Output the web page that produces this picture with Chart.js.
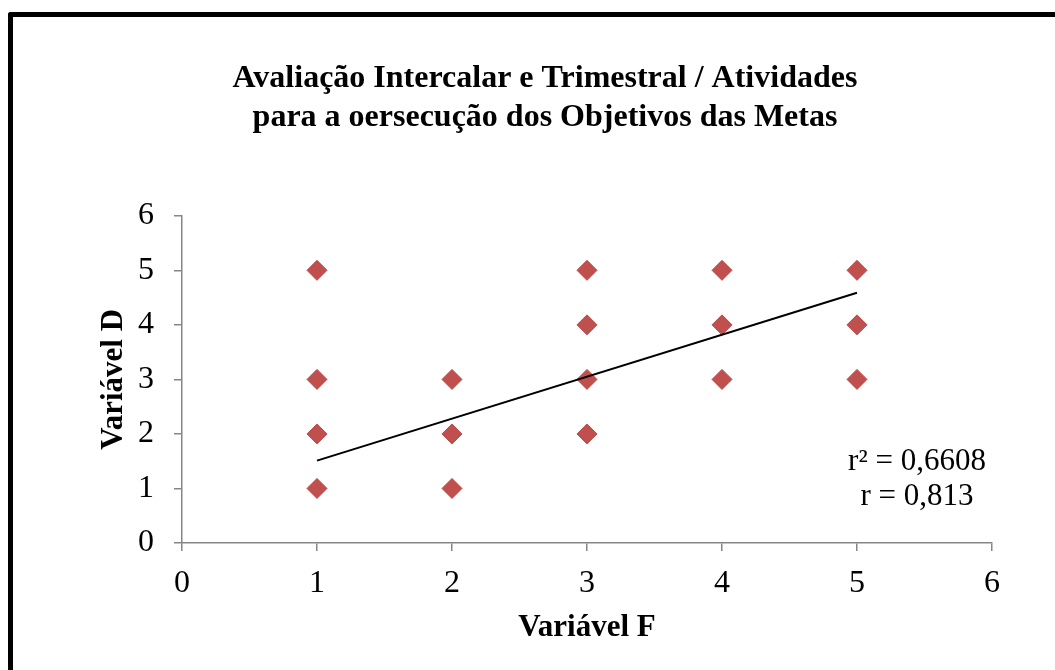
<!DOCTYPE html>
<html><head><meta charset="utf-8">
<script src="https://cdn.jsdelivr.net/npm/chart.js@4.4.1/dist/chart.umd.min.js"></script>
<style>
html,body{margin:0;padding:0;background:#fff;overflow:hidden;width:1055px;height:670px}
#frame{position:absolute;left:8px;top:12px;width:1200px;height:800px;border-left:5px solid #000;border-top:5px solid #000;border-top-left-radius:3px;box-sizing:border-box;pointer-events:none}
#c{position:absolute;left:0;top:0}
</style></head><body>
<canvas id="c" width="1090" height="670"></canvas>
<div id="frame"></div>
<script>
const xValues = [1, 1, 1, 1, 2, 2, 2, 3, 3, 3, 3, 4, 4, 4, 5, 5, 5];
const yValues = [5, 3, 2, 1, 3, 2, 1, 5, 4, 3, 2, 5, 4, 3, 5, 4, 3];
const trendX = [1, 5];
const trendY = [1.51, 4.59];
const axisMin = 0, axisMax = 6, axisStep = 1;
const chartTitle = ['Avaliação Intercalar e Trimestral / Atividades', 'para a oersecução dos Objetivos das Metas'];
const xTitle = 'Variável F';
const yTitle = 'Variável D';
const statLines = ['r² = 0,6608', 'r = 0,813'];

const FONT = "'Liberation Serif', 'Times New Roman', serif";
const AXIS_COLOR = '#868686';

const points = xValues.map((x, i) => ({x: x, y: yValues[i]}));
const trend = trendX.map((x, i) => ({x: x, y: trendY[i]}));

const statsPlugin = {
  id: 'stats',
  afterDatasetsDraw(chart) {
    const {ctx, chartArea} = chart;
    ctx.save();
    ctx.font = '31px ' + FONT;
    ctx.fillStyle = '#000';
    ctx.textAlign = 'center';
    ctx.textBaseline = 'alphabetic';
    const cx = chartArea.right - 75;
    ctx.fillText(statLines[0], cx, chartArea.top + 254);
    ctx.fillText(statLines[1], cx, chartArea.top + 289);
    ctx.restore();
  }
};

new Chart(document.getElementById('c'), {
  type: 'scatter',
  data: {
    datasets: [
      {
        type: 'line',
        data: trend,
        borderColor: '#000',
        borderWidth: 2,
        pointRadius: 0,
        fill: false,
        order: 0
      },
      {
        data: points,
        pointStyle: 'rectRot',
        pointRadius: 10,
        backgroundColor: '#c0504d',
        borderColor: '#b9484b',
        borderWidth: 1,
        order: 1
      }
    ]
  },
  options: {
    responsive: false,
    animation: false,
    layout: {padding: 0},
    plugins: {
      legend: {display: false},
      tooltip: {enabled: false},
      title: {
        display: true,
        text: chartTitle,
        color: '#000',
        font: {family: FONT, size: 32, weight: 'bold', lineHeight: 1.2},
        padding: {top: 60, bottom: 79}
      }
    },
    scales: {
      x: {
        type: 'linear',
        position: 'bottom',
        min: axisMin, max: axisMax,
        ticks: {stepSize: axisStep, color: '#000', font: {family: FONT, size: 32}, padding: 13},
        grid: {drawOnChartArea: false, drawTicks: true, tickLength: 8, color: AXIS_COLOR, lineWidth: 1.5},
        border: {color: AXIS_COLOR, width: 1.5},
        title: {display: true, text: xTitle, color: '#000', font: {family: FONT, size: 31, weight: 'bold', lineHeight: 1.2}, padding: {top: 0, bottom: 23}},
        afterFit(s) { s.height = 127; }
      },
      y: {
        type: 'linear',
        position: 'left',
        min: axisMin, max: axisMax,
        ticks: {stepSize: axisStep, color: '#000', font: {family: FONT, size: 32}, padding: 20},
        grid: {drawOnChartArea: false, drawTicks: true, tickLength: 8, color: AXIS_COLOR, lineWidth: 1.5},
        border: {color: AXIS_COLOR, width: 1.5},
        title: {display: true, text: yTitle, color: '#000', font: {family: FONT, size: 31, weight: 'bold', lineHeight: 1.2}, padding: {top: 95, bottom: 0}},
        afterFit(s) { s.width = 182; }
      },
      yRight: {
        type: 'linear',
        position: 'right',
        min: 0, max: 1,
        display: true,
        grid: {display: false, drawTicks: false},
        border: {display: false},
        ticks: {display: false},
        afterFit(s) { s.width = 98; }
      }
    }
  },
  plugins: [statsPlugin]
});
</script>
</body></html>
